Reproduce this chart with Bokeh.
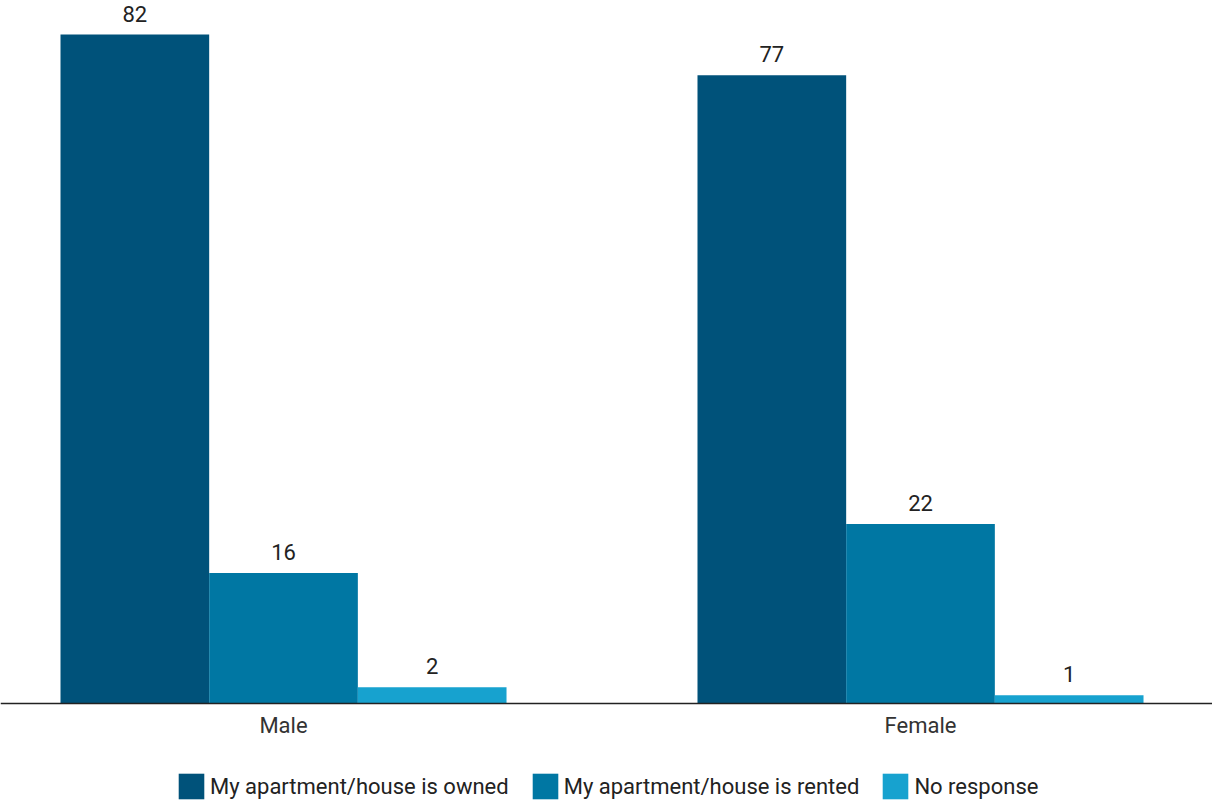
from bokeh.plotting import figure
from bokeh.models import ColumnDataSource, LabelSet, Range1d, Span, Legend, LegendItem
from bokeh.core.properties import value
from bokeh.embed import file_html
from bokeh.resources import INLINE

categories = ["Male", "Female"]
series_names = ["My apartment/house is owned", "My apartment/house is rented", "No response"]
owned = [82, 77]
rented = [16, 22]
no_response = [2, 1]
colors = ["#00527a", "#0077a3", "#17a2cf"]

FONT = "Roboto"
bar_w = 0.2334

p = figure(frame_width=1212, frame_height=803, output_backend="svg", toolbar_location=None,
           x_range=Range1d(-0.4443, 1.4584), y_range=Range1d(-12.257, 86.17),
           x_axis_location=None, y_axis_location=None,
           min_border=0, min_border_top=0, min_border_left=0,
           min_border_right=0, min_border_bottom=0)
p.outline_line_color = None
p.xgrid.visible = False
p.ygrid.visible = False

items = []
all_series = [owned, rented, no_response]
for k, (name, vals, col) in enumerate(zip(series_names, all_series, colors)):
    xs = [i + (k - 1) * bar_w for i in range(len(categories))]
    src = ColumnDataSource(dict(x=xs, top=vals, lab=[str(v) for v in vals]))
    r = p.vbar(x="x", top="top", width=bar_w, bottom=0, source=src, fill_color=col,
               line_color=None)
    items.append(LegendItem(label=name, renderers=[r]))
    p.add_layout(LabelSet(x="x", y="top", text="lab", source=src, y_offset=13,
                          text_align="center", text_baseline="bottom",
                          text_font=value(FONT), text_font_size="22px", text_color="#222222"))

# baseline (x axis line)
p.add_layout(Span(location=0, dimension="width", line_color="#222222", line_width=1.5))

# category labels
cat_src = ColumnDataSource(dict(x=list(range(len(categories))), y=[0] * len(categories), lab=categories))
p.add_layout(LabelSet(x="x", y="y", text="lab", source=cat_src, y_offset=-22,
                      text_align="center", text_baseline="middle",
                      text_font=value(FONT), text_font_size="22px", text_color="#333333"))

leg = Legend(items=items, orientation="horizontal", location=(175, 1))
leg.border_line_color = None
leg.background_fill_alpha = 0
leg.margin = 0
leg.padding = 0
leg.spacing = 20
leg.glyph_width = 32
leg.glyph_height = 32
leg.label_standoff = 3
leg.label_text_font = FONT
leg.label_text_font_size = "22px"
leg.label_text_color = "#222222"
p.add_layout(leg, "center")

open("out.html", "w").write(file_html(p, INLINE))
